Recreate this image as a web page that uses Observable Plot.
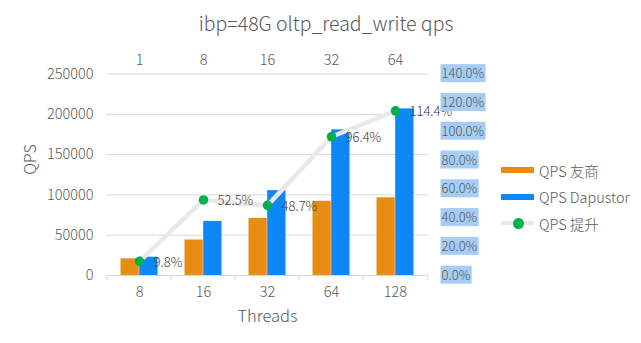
<!DOCTYPE html>
<html>
<head>
<meta charset="utf-8">
<script src="https://cdn.jsdelivr.net/npm/d3@7"></script>
<script src="https://cdn.jsdelivr.net/npm/@observablehq/plot@0.6"></script>
<style>
  html, body { margin: 0; padding: 0; background: #fff; }
  #wrap { position: relative; width: 641px; height: 343px; font-family: "Noto Sans CJK SC", "Noto Sans", sans-serif; color: #595959; font-weight: 300; }
  #title { position: absolute; left: 0; width: 652px; top: 8px; text-align: center; font-size: 19.5px; color: #595959; }
  #legend { position: absolute; left: 501px; top: 157px; font-size: 14.5px; color: #595959; }
  .item { display: flex; align-items: center; height: 26.5px; }
  .sw { width: 33px; height: 6px; margin-right: 5px; position: relative; }
  .dotsw { position: absolute; left: 12px; top: -2.5px; width: 11px; height: 11px; border-radius: 50%; background: #00b050; }
  svg text { font-weight: 300; }
</style>
</head>
<body>
<div id="wrap">
  <div id="chart"></div>
  <div id="title"></div>
  <div id="legend"></div>
</div>
<script>
const threads = ["8", "16", "32", "64", "128"];
const topLabels = ["1", "8", "16", "32", "64"];
const qpsYoushang = [20700, 44000, 70800, 92000, 96400];
const qpsDapustor = [22700, 67100, 105300, 180700, 206700];
const qpsGain = [9.8, 52.5, 48.7, 96.4, 114.4];
const leftTicks = [0, 50000, 100000, 150000, 200000, 250000];
const rightTicks = [0, 20, 40, 60, 80, 100, 120, 140];
const seriesNames = ["QPS 友商", "QPS Dapustor", "QPS 提升"];
const colors = ["#e78e12", "#0d88fb", "#00b050", "#e9e9e9"];
const titleText = "ibp=48G oltp_read_write qps";

const qMax = 250000, pMax = 140;
const k = qMax / pMax; // map percent onto the QPS axis

const rows = threads.map((t, i) => ({t, a: qpsYoushang[i], b: qpsDapustor[i], g: qpsGain[i]}));

const W = 641, H = 343;
const mL = 106, mR = 213, mT = 73.5, mB = 68;
const bw = (W - mL - mR) / threads.length;
const barW = 18.7;
const innerGap = bw / 2 - barW;

const gray = "#595959";

const chart = Plot.plot({
  width: W, height: H,
  marginLeft: mL, marginRight: mR, marginTop: mT, marginBottom: mB,
  style: {fontSize: "13px", fontFamily: "'Noto Sans CJK SC', 'Noto Sans', sans-serif", color: gray, background: "#fff"},
  x: {type: "band", domain: threads, padding: 0, label: null},
  y: {domain: [0, qMax], label: null},
  marks: [
    Plot.gridY(leftTicks, {stroke: "#d9d9d9", strokeOpacity: 1}),
    Plot.ruleY([0], {stroke: "#d9d9d9"}),
    Plot.ruleX(threads, {x: d => d, dx: -bw / 2, y1: 0, y2: 0, insetBottom: -5, stroke: "#d9d9d9"}),
    Plot.ruleX([threads[threads.length - 1]], {x: d => d, dx: bw / 2, y1: 0, y2: 0, insetBottom: -5, stroke: "#d9d9d9"}),
    Plot.barY(rows, {x: "t", y: "a", fill: colors[0], insetLeft: innerGap, insetRight: bw / 2}),
    Plot.barY(rows, {x: "t", y: "b", fill: colors[1], insetLeft: bw / 2, insetRight: innerGap}),
    Plot.line(rows, {x: "t", y: d => d.g * k, stroke: colors[3], strokeWidth: 4.5}),
    Plot.dot(rows, {x: "t", y: d => d.g * k, fill: colors[2], r: 4.8}),
    Plot.text(rows, {x: "t", y: d => d.g * k, text: d => d.g.toFixed(1) + "%", textAnchor: "start", dx: 14, dy: 1, fill: "#404040", fontSize: 13}),
    Plot.axisY(leftTicks, {anchor: "left", tickSize: 0, tickPadding: 13, label: null, fontSize: 14.5, tickFormat: d => String(d)}),
    Plot.text(["QPS"], {frameAnchor: "left", dx: -76, rotate: -90, fontSize: 16, fill: gray}),
    Plot.axisY(rightTicks.map(p => p * k), {anchor: "right", tickSize: 0, tickPadding: 13, label: null, tickFormat: d => (d / k).toFixed(1) + "%"}),
    Plot.axisX({anchor: "bottom", tickSize: 0, tickPadding: 11, label: null, fontSize: 14.5}),
    Plot.axisX({anchor: "top", tickSize: 0, tickPadding: 9, label: null, fontSize: 14.5, tickFormat: d => topLabels[threads.indexOf(d)]}),
    Plot.text(["Threads"], {frameAnchor: "bottom", dy: 46, fontSize: 16.5, fill: gray})
  ]
});
document.getElementById("chart").appendChild(chart);

// selection-style highlight behind right axis labels
chart.querySelectorAll('g[aria-label="y-axis tick label"] text').forEach(t => {
  if (!t.textContent.endsWith("%")) return;
  const b = t.getBBox();
  const r = document.createElementNS("http://www.w3.org/2000/svg", "rect");
  r.setAttribute("x", b.x - 1);
  r.setAttribute("y", b.y + 1);
  r.setAttribute("width", b.width + 2);
  r.setAttribute("height", b.height - 1);
  r.setAttribute("fill", "#a6cdf5");
  const tr = t.getAttribute("transform");
  if (tr) r.setAttribute("transform", tr);
  t.parentNode.insertBefore(r, t);
});

document.getElementById("title").textContent = titleText;

const legend = document.getElementById("legend");
seriesNames.forEach((name, i) => {
  const item = document.createElement("div");
  item.className = "item";
  const sw = document.createElement("div");
  sw.className = "sw";
  if (i < 2) {
    sw.style.background = colors[i];
  } else {
    sw.style.background = colors[3];
    sw.style.height = "4px";
    const d = document.createElement("div");
    d.className = "dotsw";
    d.style.top = "-3.5px";
    sw.appendChild(d);
  }
  const label = document.createElement("span");
  label.textContent = name;
  item.appendChild(sw);
  item.appendChild(label);
  legend.appendChild(item);
});
</script>
</body>
</html>
